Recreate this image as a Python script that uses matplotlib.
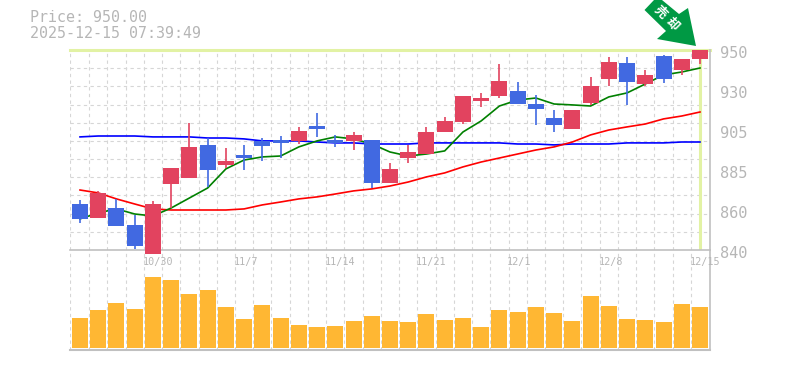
import numpy as np
import matplotlib
matplotlib.use('Agg')
import matplotlib.pyplot as plt
from matplotlib.patches import Polygon

# price data, one entry per trading day
opens = [865.3, 857.6, 863.1, 853.8, 837.8, 876.3, 879.6, 897.8, 886.8, 892.3, 900.0, 900.5,
         900.0, 908.2, 900.5, 900.0, 900.5, 876.9, 890.6, 892.8, 904.9, 910.4, 922.0, 924.7,
         927.5, 920.3, 912.6, 906.6, 920.9, 934.1, 942.9, 931.3, 946.7, 939.0, 945.1]
highs = [867.5, 872.5, 868.1, 859.3, 867.0, 885.1, 909.9, 901.6, 896.1, 897.8, 901.6, 902.7,
         907.7, 915.4, 903.3, 904.9, 900.5, 887.9, 897.8, 907.7, 913.2, 924.7, 926.4, 942.3,
         932.4, 925.3, 917.0, 917.0, 935.2, 946.2, 946.2, 939.0, 947.3, 945.1, 950.0]
lows = [854.9, 857.6, 853.2, 840.6, 837.8, 863.1, 879.6, 874.7, 885.1, 884.0, 889.0, 890.6,
        898.3, 902.2, 896.7, 895.0, 874.1, 876.9, 887.9, 892.8, 904.9, 909.3, 918.7, 923.6,
        920.3, 908.8, 904.9, 906.6, 919.8, 930.2, 919.8, 930.2, 931.9, 936.3, 942.3]
closes = [857.1, 871.4, 853.2, 842.2, 865.3, 885.1, 896.7, 884.0, 889.0, 890.6, 897.2, 898.9,
          905.5, 906.6, 898.9, 903.3, 876.9, 884.6, 893.9, 904.9, 911.0, 924.7, 923.6, 933.0,
          920.3, 917.6, 908.8, 917.0, 930.2, 943.4, 932.4, 936.3, 934.1, 945.1, 950.0]
volumes = [30, 38, 45, 39, 71, 68, 54, 58, 41, 29, 43, 30, 23, 21, 22, 27, 32, 27,
           26, 34, 28, 30, 21, 38, 36, 41, 35, 27, 52, 42, 29, 28, 26, 44, 41]

# moving averages
ma_short = [857.1, 860.4, 862.6, 859.8, 858.7, 863.1, 868.6, 874.1, 884.6, 889.5, 891.2, 891.7,
            896.7, 900.0, 902.2, 901.1, 898.3, 893.9, 891.7, 892.8, 894.5, 904.9, 911.0, 919.2,
            922.5, 923.6, 920.3, 919.8, 919.2, 924.2, 926.4, 931.3, 936.3, 937.9, 940.1]
ma_mid = [873.0, 871.4, 868.1, 865.3, 862.6, 862.0, 862.0, 862.0, 862.0, 862.6, 864.8, 866.4,
          868.1, 869.2, 870.8, 872.5, 873.6, 875.2, 877.4, 880.2, 882.4, 885.7, 888.4, 890.6,
          892.8, 895.0, 896.7, 899.4, 903.3, 906.0, 907.7, 909.3, 912.1, 913.7, 915.9]
ma_long = [902.2, 902.7, 902.7, 902.7, 902.2, 902.2, 902.2, 901.6, 901.6, 901.1, 900.0, 900.0,
           900.0, 899.4, 898.9, 898.9, 898.3, 898.3, 898.3, 898.9, 898.9, 898.9, 898.9, 898.9,
           898.3, 898.3, 897.8, 898.3, 898.3, 898.3, 898.9, 898.9, 898.9, 899.4, 899.4]

price_ticks = [950, 928, 906, 884, 862, 840]
price_labels = ['950', '930', '905', '885', '860', '840']
date_pos = [4, 9, 14, 19, 24, 29, 34]
date_labels = ['10/30', '11/7', '11/14', '11/21', '12/1', '12/8', '12/15']
last_price = 950.0
title_lines = ['Price: 950.00', '2025-12-15 07:39:49']
signal_chars = ['売', '却']

W, H = 785, 370
UP = '#e2435f'
DOWN = '#4169e1'
GRID = '#d6d6d6'
AXIS = '#c0c0c0'
TEXT = '#b6b6b6'
CROSS = '#e2f2a4'
MONO = 'DejaVu Sans Mono'


def px(x, y):
    return x / W, 1 - y / H


def make_axes(left, top, right, bottom):
    return fig.add_axes([left / W, 1 - bottom / H, (right - left) / W, (bottom - top) / H])


fig = plt.figure(figsize=(W / 100, H / 100), dpi=100)
ax = make_axes(70, 50, 710, 250)
ax2 = make_axes(70, 250, 710, 350)

x = np.arange(len(closes))
xmin, xmax = -0.548, len(closes) - 1 + 0.548
bar_w = 0.877

for a in (ax, ax2):
    a.set_xlim(xmin, xmax)
    a.set_xticks([])
    a.set_yticks([])
    a.patch.set_alpha(0)
    for s in a.spines.values():
        s.set_visible(False)
    for gx in x[:-1] + 0.5:
        a.axvline(gx, color=GRID, lw=0.8, ls=(0, (3, 3)), zorder=1)
    a.axvline(xmin + 0.02, color=GRID, lw=0.8, ls=(0, (3, 3)), zorder=1)
    a.spines['right'].set_visible(True)
    a.spines['right'].set_color(AXIS)
    a.spines['right'].set_linewidth(1.2)

# price pane
ax.set_ylim(840, 950)
for gy in np.arange(850, 950, 10):
    ax.axhline(gy, color=GRID, lw=0.8, ls=(0, (3, 3)), zorder=1)
ax.spines['bottom'].set_visible(True)
ax.spines['bottom'].set_color(AXIS)
ax.spines['bottom'].set_linewidth(1.2)

ax.axhline(last_price, color=CROSS, lw=2.2, zorder=2, clip_on=False)
ax.axvline(x[-1], color=CROSS, lw=2.2, zorder=2)

ax.plot(x, ma_long, color='#0000ff', lw=1.2, zorder=3)
ax.plot(x, ma_mid, color='#ff0000', lw=1.2, zorder=3)
ax.plot(x, ma_short, color='#008000', lw=1.2, zorder=3)

colors = [UP if c >= o else DOWN for o, c in zip(opens, closes)]
ax.vlines(x, lows, highs, colors=colors, lw=1.2, zorder=4, clip_on=False)
ax.bar(x, np.abs(np.array(closes) - np.array(opens)), bottom=np.minimum(opens, closes),
       width=bar_w, color=colors, zorder=5, clip_on=False)

for v, lab in zip(price_ticks, price_labels):
    ax.annotate(lab, xy=(1, v), xycoords=ax.get_yaxis_transform(), xytext=(7, -2.2),
                textcoords='offset points', ha='left', va='center',
                family=MONO, fontsize=11, color=TEXT, annotation_clip=False)

# volume pane
ax2.set_ylim(-2, 98)
ax2.spines['bottom'].set_visible(True)
ax2.spines['bottom'].set_color(AXIS)
ax2.spines['bottom'].set_linewidth(1.5)
ax2.bar(x, volumes, width=bar_w, color='#ffb733', zorder=3)

for p, lab in zip(date_pos, date_labels):
    ax2.text(p - 0.57, 86, lab, ha='left', va='center', family=MONO, fontsize=7.3,
             color=TEXT, zorder=6)

# header text
fig.text(*px(30, 18), title_lines[0], family=MONO, fontsize=10.8, color=TEXT, va='center')
fig.text(*px(30, 33), title_lines[1], family=MONO, fontsize=10.8, color=TEXT, va='center')

# signal arrow
arrow = [(644.5, 10), (654, 0), (662, 0), (679, 14), (688, 8), (696, 46), (657, 39), (666, 31)]
fig.add_artist(Polygon([px(*p) for p in arrow], closed=True, transform=fig.transFigure,
                       facecolor='#009944', edgecolor='none', zorder=10))
for ch, pos in zip(signal_chars, [(660.5, 12.5), (672.5, 24)]):
    fig.text(*px(*pos), ch, family=['Noto Sans CJK JP', 'DejaVu Sans'], fontsize=9,
             fontweight='bold', color='white', rotation=-45, rotation_mode='anchor',
             ha='center', va='center', zorder=11)

fig.savefig('out.png', dpi=100)
